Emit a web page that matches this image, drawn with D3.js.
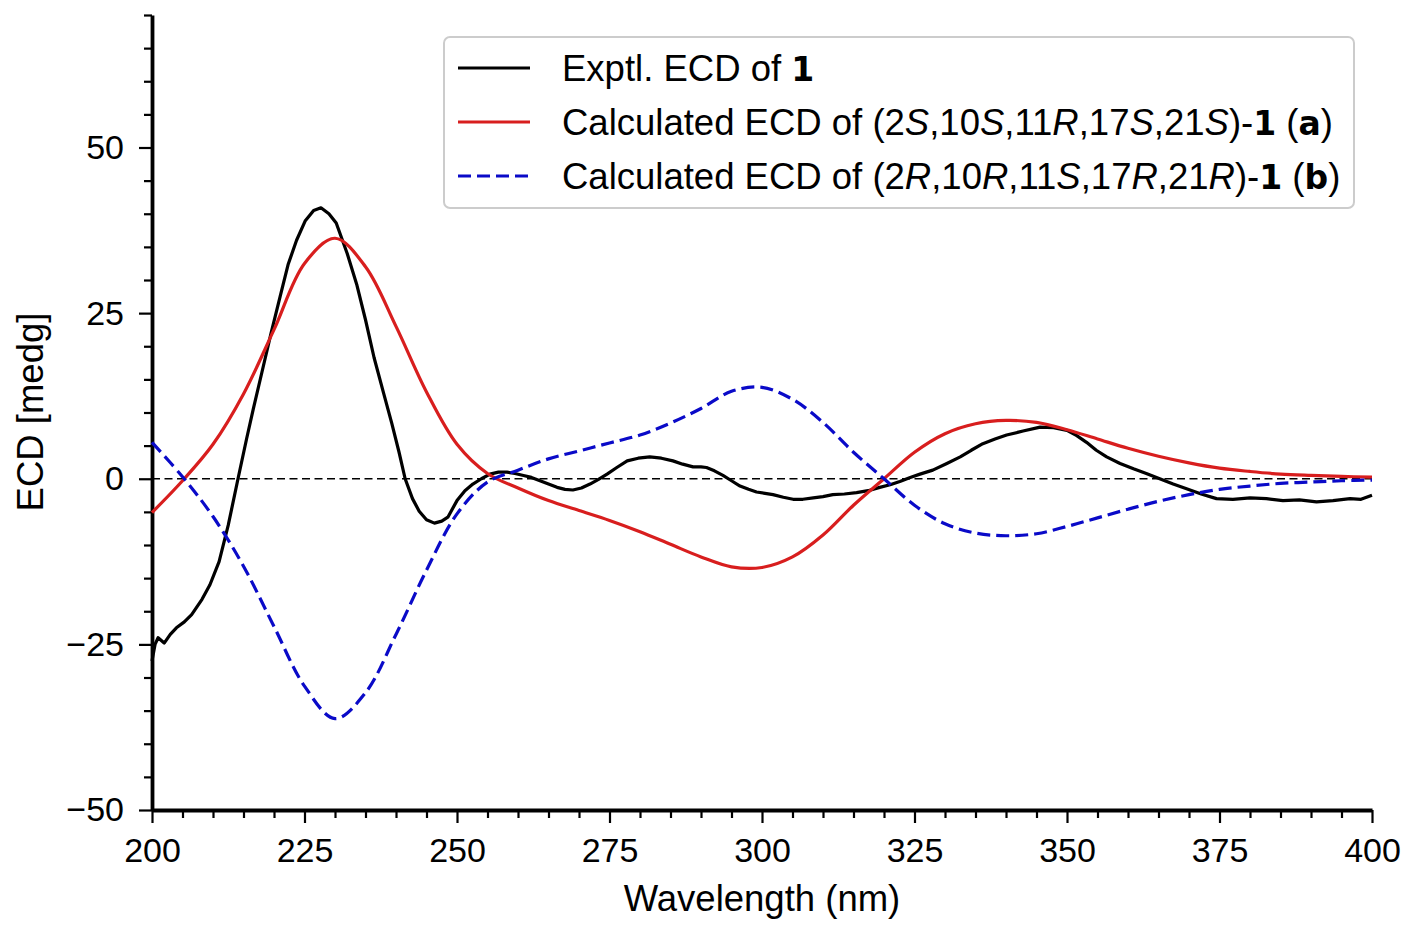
<!DOCTYPE html>
<html><head><meta charset="utf-8">
<script src="https://cdn.jsdelivr.net/npm/d3@7"></script>
<style>
body{margin:0;background:#fff;}
text{font-family:"Liberation Sans",Arial,sans-serif;}
</style></head>
<body><svg id="c" width="1417" height="935"></svg>
<script>
// ---- data ----
const calcWl = [200,205,210,215,220,225,230,235,240,245,250,255,260,265,270,275,280,285,290,295,300,305,310,315,320,325,330,335,340,345,350,355,360,365,370,375,380,385,390,395,400];
const calcA = [-5.1,-0.3,5.2,12.8,22.5,32.5,36.3,32.0,23.0,13.1,5.2,0.8,-1.4,-3.3,-4.8,-6.3,-8.0,-9.9,-11.8,-13.3,-13.4,-11.8,-8.5,-4.0,0.0,4.0,6.8,8.3,8.8,8.5,7.4,6.0,4.6,3.4,2.4,1.6,1.1,0.7,0.5,0.35,0.25];
const calcB = [5.5,0.3,-5.7,-13.2,-22.3,-31.3,-36.2,-32.3,-23.5,-13.8,-5.3,-0.5,1.3,3.0,4.2,5.4,6.6,8.4,10.6,13.2,13.8,12.0,8.5,4.0,0.0,-4.0,-6.8,-8.2,-8.6,-8.3,-7.2,-5.9,-4.6,-3.4,-2.4,-1.6,-1.1,-0.7,-0.5,-0.3,-0.2];
const exptWl = [200,200.5,201,202,203,204,205.3,206.5,208.2,209.5,211,212.5,214.1,215.5,216.6,218,219.5,221,222.3,223.7,225.1,226.5,227.7,229,230.2,232,233.6,235,236.4,238,239.3,240.5,241.5,242.7,243.8,245,246.3,247.5,248.5,250,251.3,252.6,254,255.4,256.8,258.2,259.5,260.9,262.2,263.6,265,266.4,267.7,269,270.4,271.8,273.2,274.6,276.2,277.9,279.7,281.6,283.5,285.4,287,288.7,290,290.9,292.2,293.6,295,296.4,297.8,299.1,300.5,301.8,303.5,305.1,306.7,308.4,310,311.6,313.5,315.5,317.4,319.3,321,322.6,324.3,325.9,328,330.3,332.5,334.3,336.2,338.2,340.1,342.8,345.6,347.8,350,351.6,353.2,354.8,356.5,358.7,360.9,363,365.2,367.4,369.6,372,374.5,377.2,380,382.7,385.4,388.1,390.9,393.6,396.4,398.2,400];
const exptCD = [-27.5,-25,-24,-24.8,-23.5,-22.5,-21.6,-20.5,-18.2,-16,-12.5,-7,0,6,10.5,16,21.9,27.5,32.3,36,38.9,40.5,40.9,40,38.6,34,29.2,24,18.3,12.8,8.4,4,0,-3,-4.9,-6.2,-6.7,-6.4,-5.8,-3.3,-1.8,-0.8,0,0.7,1.0,1.0,0.8,0.5,0.2,-0.3,-0.8,-1.3,-1.6,-1.7,-1.4,-0.8,-0.1,0.7,1.7,2.7,3.1,3.3,3.1,2.7,2.2,1.8,1.8,1.7,1.2,0.5,-0.3,-1.1,-1.6,-2.0,-2.2,-2.4,-2.8,-3.1,-3.1,-2.9,-2.7,-2.4,-2.3,-2.1,-1.8,-1.3,-0.9,-0.4,0.2,0.7,1.3,2.3,3.3,4.3,5.3,6.0,6.6,7.2,7.8,7.7,7.3,6.5,5.5,4.3,3.3,2.3,1.5,0.8,0,-0.8,-1.5,-2.3,-3.0,-3.1,-2.9,-3.0,-3.3,-3.2,-3.5,-3.3,-3.0,-3.1,-2.5];
const xMajorTicks = [200,225,250,275,300,325,350,375,400];
const yMajorTicks = [-50,-25,0,25,50];
const xLabel = "Wavelength (nm)";
const yLabel = "ECD [medg]";

// ---- chart ----
const svg = d3.select("#c");
const x = d3.scaleLinear().domain([200,400]).range([152,1372]);
const y = d3.scaleLinear().domain([-50,70]).range([810,15]);

const fs = 34;
const xMinor = d3.range(200,401,5).filter(v=>!xMajorTicks.includes(v));
const yMinor = d3.range(-50,71,5).filter(v=>!yMajorTicks.includes(v));

const gx = svg.append("g").attr("transform","translate(0,810)");
gx.call(d3.axisBottom(x).tickValues(xMinor).tickSize(8).tickSizeOuter(0).tickFormat(""));
gx.call(g=>g.select(".domain").remove());
const gx2 = svg.append("g").attr("transform","translate(0,810)");
gx2.call(d3.axisBottom(x).tickValues(xMajorTicks).tickSize(13).tickSizeOuter(0).tickPadding(15).tickFormat(d3.format("d")));
const gy = svg.append("g").attr("transform","translate(152,0)");
gy.call(d3.axisLeft(y).tickValues(yMinor).tickSize(8).tickSizeOuter(0).tickFormat(""));
gy.call(g=>g.select(".domain").remove());
const gy2 = svg.append("g").attr("transform","translate(152,0)");
gy2.call(d3.axisLeft(y).tickValues(yMajorTicks).tickSize(13).tickSizeOuter(0).tickPadding(15).tickFormat(d=>d<0?"\u2212"+Math.abs(d):d));
svg.selectAll(".tick line").attr("stroke","#000").attr("stroke-width",2.2);
svg.selectAll(".domain").attr("stroke","#000").attr("stroke-width",3.8);
svg.selectAll(".tick text").attr("font-size",fs).attr("fill","#000").attr("font-family","'Liberation Sans',Arial,sans-serif");

// zero line
svg.append("line").attr("x1",x(200)).attr("x2",x(400)).attr("y1",y(0)).attr("y2",y(0))
  .attr("stroke","#000").attr("stroke-width",1.4).attr("stroke-dasharray","8,4.5");

const lineC = d3.line().x(d=>x(d[0])).y(d=>y(d[1])).curve(d3.curveCatmullRom);
const lineE = d3.line().x(d=>x(d[0])).y(d=>y(d[1])).curve(d3.curveLinear);

svg.append("path").datum(exptWl.map((w,i)=>[w,exptCD[i]])).attr("d",lineE)
  .attr("fill","none").attr("stroke","#000").attr("stroke-width",3.2).attr("stroke-linejoin","round");
svg.append("path").datum(calcWl.map((w,i)=>[w,calcA[i]])).attr("d",lineC)
  .attr("fill","none").attr("stroke","#d81e1e").attr("stroke-width",3.2);
svg.append("path").datum(calcWl.map((w,i)=>[w,calcB[i]])).attr("d",lineC)
  .attr("fill","none").attr("stroke","#0a0ac8").attr("stroke-width",3.2).attr("stroke-dasharray","13,6");

// axis labels
svg.append("text").attr("x",(152+1372)/2).attr("y",911).attr("text-anchor","middle").attr("font-size",36.5).text(xLabel);
svg.append("text").attr("transform","translate(43,412) rotate(-90)").attr("text-anchor","middle").attr("font-size",36.5).text(yLabel);

// legend
const lg = svg.append("g");
lg.append("rect").attr("x",444).attr("y",37).attr("width",910).attr("height",171).attr("rx",6)
  .attr("fill","#fff").attr("stroke","#cccccc").attr("stroke-width",2);
const legendRows = [
  {stroke:"#000",dash:null,parts:[["Exptl. ECD of ",""],["1","b"]]},
  {stroke:"#d81e1e",dash:null,parts:[["Calculated ECD of (2",""],["S","i"],[",10",""],["S","i"],[",11",""],["R","i"],[",17",""],["S","i"],[",21",""],["S","i"],[")-",""],["1","b"],[" (",""],["a","b"],[")",""]]},
  {stroke:"#0a0ac8",dash:"13,6",parts:[["Calculated ECD of (2",""],["R","i"],[",10",""],["R","i"],[",11",""],["S","i"],[",17",""],["R","i"],[",21",""],["R","i"],[")-",""],["1","b"],[" (",""],["b","b"],[")",""]]}
];
const rowY = [68,122,176];
legendRows.forEach((r,i)=>{
  lg.append("line").attr("x1",458).attr("x2",530).attr("y1",rowY[i]).attr("y2",rowY[i])
    .attr("stroke",r.stroke).attr("stroke-width",3.2).attr("stroke-dasharray",r.dash);
  const t = lg.append("text").attr("x",562).attr("y",rowY[i]+13).attr("font-size",36.5);
  r.parts.forEach(p=>{
    const ts = t.append("tspan").text(p[0]);
    if(p[1]==="b") ts.attr("font-weight","bold").attr("font-family","'DejaVu Sans',sans-serif").attr("font-size",33);
    if(p[1]==="i") ts.attr("font-style","italic");
  });
});
</script></body></html>
